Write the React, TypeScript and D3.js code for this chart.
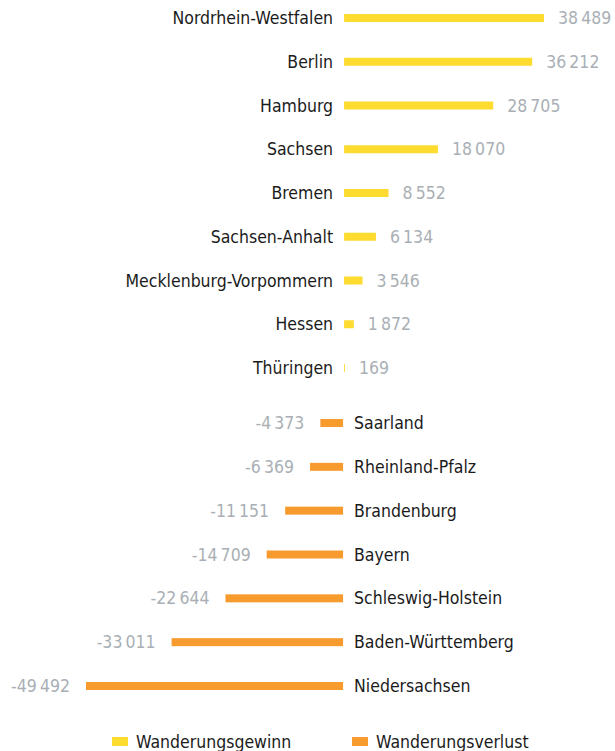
import React from 'react';
import * as d3 from 'd3';

const gainStates = ['Nordrhein-Westfalen', 'Berlin', 'Hamburg', 'Sachsen', 'Bremen', 'Sachsen-Anhalt', 'Mecklenburg-Vorpommern', 'Hessen', 'Thüringen'];
const gainValues = [38489, 36212, 28705, 18070, 8552, 6134, 3546, 1872, 169];
const lossStates = ['Saarland', 'Rheinland-Pfalz', 'Brandenburg', 'Bayern', 'Schleswig-Holstein', 'Baden-Württemberg', 'Niedersachsen'];
const lossValues = [-4373, -6369, -11151, -14709, -22644, -33011, -49492];
const legendLabels = ['Wanderungsgewinn', 'Wanderungsverlust'];

const W = 615;
const H = 751;
const GAIN = '#fedb2f';
const LOSS = '#f79b2f';
const GREY = '#a9afb5';
const INK = '#1b1b1b';
const FONT = '"DejaVu Sans Condensed", "DejaVu Sans", sans-serif';

const locale = d3.formatLocale({ decimal: ',', thousands: '\u2009', grouping: [3], currency: ['', '€'], minus: '-' });
const fmt = locale.format(',d');

const App: React.FC = () => {
    const x = d3.scaleLinear()
        .domain([d3.min(lossValues) as number, d3.max(gainValues) as number])
        .range([86, 543]);
    const yGain = d3.scalePoint<string>().domain(gainStates).range([18, 368]);
    const yLoss = d3.scalePoint<string>().domain(lossStates).range([423, 686]);
    const barH = 8;
    const x0 = x(0);

    return (
        <svg width={W} height={H} style={{ position: 'absolute', left: 0, top: 0 }} fontFamily={FONT} fontSize={17.5}>
            {gainStates.map((s, i) => {
                const y = yGain(s) as number;
                const v = gainValues[i];
                return (
                    <g key={s}>
                        <rect x={x0 + 1} y={y - barH / 2} width={x(v) - x0} height={barH} fill={GAIN} />
                        <text x={x0 - 10} y={y} dy="0.35em" textAnchor="end" fill={INK}>{s}</text>
                        <text x={x(v) + 15} y={y} dy="0.35em" fill={GREY}>{fmt(v)}</text>
                    </g>
                );
            })}
            {lossStates.map((s, i) => {
                const y = yLoss(s) as number;
                const v = lossValues[i];
                return (
                    <g key={s}>
                        <rect x={x(v)} y={y - barH / 2} width={x0 - x(v)} height={barH} fill={LOSS} />
                        <text x={x0 + 11} y={y} dy="0.35em" fill={INK}>{s}</text>
                        <text x={x(v) - 16} y={y} dy="0.35em" textAnchor="end" fill={GREY}>{fmt(v)}</text>
                    </g>
                );
            })}
            {legendLabels.map((l, i) => {
                const lx = i === 0 ? 112 : 352;
                return (
                    <g key={l}>
                        <rect x={lx} y={737} width={16} height={9} fill={i === 0 ? GAIN : LOSS} />
                        <text x={lx + 24} y={742} dy="0.35em" fontSize={17.5} fill={INK}>{l}</text>
                    </g>
                );
            })}
        </svg>
    );
};

export default App;
